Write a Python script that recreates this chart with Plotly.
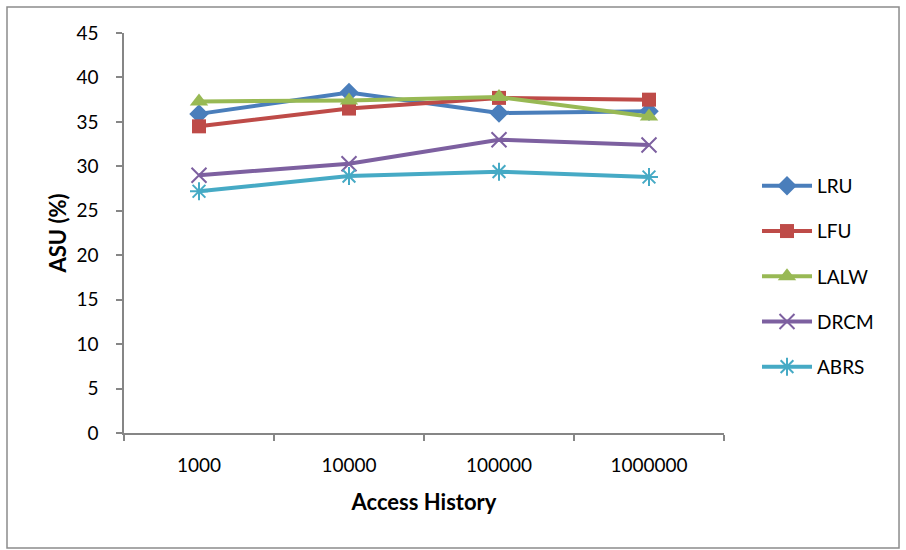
import plotly.graph_objects as go

# Access history sizes (category axis)
history = ["1000", "10000", "100000", "1000000"]

# ASU (%) per replacement policy
lru = [35.9, 38.3, 36.0, 36.2]
lfu = [34.5, 36.5, 37.7, 37.5]
lalw = [37.3, 37.4, 37.8, 35.6]
drcm = [29.0, 30.3, 33.0, 32.4]
abrs = [27.2, 28.9, 29.4, 28.8]

y_ticks = [0, 5, 10, 15, 20, 25, 30, 35, 40, 45]

series = [
    ("LRU", lru, "#4A7EBB", "diamond", 15, 0),
    ("LFU", lfu, "#BE4B48", "square", 14, 0),
    ("LALW", lalw, "#98B954", "triangle-up", 16, 0),
    ("DRCM", drcm, "#7D60A0", "x-thin-open", 15, 2),
    ("ABRS", abrs, "#46AAC5", "asterisk-open", 15, 2),
]

FONT = "Lato, Liberation Sans, sans-serif"

fig = go.Figure()
for i, (name, vals, color, symbol, size, mlw) in enumerate(series):
    fig.add_trace(go.Scatter(
        x=history, y=vals, name=name, mode="lines+markers",
        legendgroup=name,
        line=dict(color=color, width=4),
        marker=dict(symbol=symbol, size=size, color=color,
                    line=dict(color=color, width=mlw)),
    ))

axis_color = "#868686"

fig.update_layout(
    width=906, height=550,
    margin=dict(l=124, r=182, t=33, b=117),
    paper_bgcolor="white", plot_bgcolor="white",
    font=dict(family=FONT, size=19, color="black"),
    showlegend=True,
    legend=dict(x=1.055, y=0.665, xanchor="left", yanchor="top",
                font=dict(size=19), tracegroupgap=17.5, itemwidth=50,
                bgcolor="rgba(0,0,0,0)"),
    xaxis=dict(
        type="category", range=[-0.5, 3.5],
        showline=True, linecolor=axis_color, linewidth=1.5,
        ticks="outside", tickson="boundaries", ticklen=6,
        tickcolor=axis_color, tickwidth=1.5, ticklabelstandoff=14,
        showgrid=False, zeroline=False,
        title=dict(text="<b>Access History</b>", font=dict(size=22), standoff=20),
    ),
    yaxis=dict(
        range=[0, 45], tickvals=y_ticks,
        showline=True, linecolor=axis_color, linewidth=1.5,
        ticks="outside", ticklen=6, tickcolor=axis_color, tickwidth=1.5,
        ticklabelstandoff=14,
        showgrid=False, zeroline=False,
        title=dict(text="<b>ASU (%)</b>", font=dict(size=22), standoff=4),
    ),
    shapes=[dict(
        type="rect", xref="paper", yref="paper",
        x0=-0.195, x1=1.2917, y0=-0.2875, y1=1.065,
        line=dict(color="#8C8C8C", width=1.5), fillcolor="rgba(0,0,0,0)",
    )],
)

fig.write_html("out.html")
